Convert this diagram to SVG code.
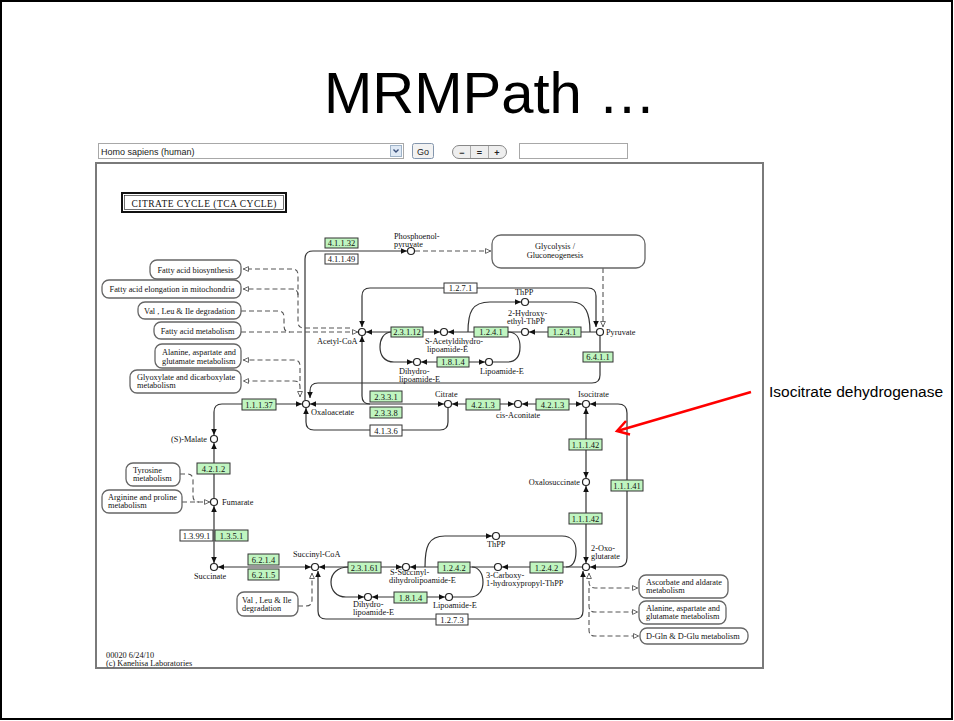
<svg xmlns="http://www.w3.org/2000/svg" width="954" height="721" viewBox="0 0 954 721">
<defs>
<style>
.ln{fill:none;stroke:#333;stroke-width:1.2}
.ds{fill:none;stroke:#555;stroke-width:1.1;stroke-dasharray:5 3}
.cp{fill:#fff;stroke:#222;stroke-width:1.2}
.ec rect{fill:#c0f5c0;stroke:#333;stroke-width:1}
.ew rect{fill:#fff;stroke:#333;stroke-width:1}
.ec text,.ew text{text-anchor:middle;font-size:8.5px}
.mp rect{fill:#fff;stroke:#666;stroke-width:1.3}
.mc text{text-anchor:middle}
text{font-family:"Liberation Serif","DejaVu Serif",serif;font-size:8.3px;fill:#111}
.ui{font-family:"Liberation Sans",Arial,sans-serif}
.title{font-size:58px;fill:#000;text-anchor:middle}
.note{font-size:15.5px;fill:#000}
.tb{font-size:9px;fill:#222}
.b{marker-start:url(#f);marker-end:url(#f)}
.e{marker-end:url(#f)}
.s{marker-start:url(#f)}
.oe{marker-end:url(#o)}
.os{marker-start:url(#o)}
</style>
<marker id="f" viewBox="0 0 6 6" refX="6" refY="3" markerWidth="6" markerHeight="6" markerUnits="userSpaceOnUse" orient="auto-start-reverse"><path d="M0,0.2L6,3L0,5.8z" fill="#111"/></marker>
<marker id="o" viewBox="0 0 6 6" refX="6" refY="3" markerWidth="6" markerHeight="6" markerUnits="userSpaceOnUse" orient="auto-start-reverse"><path d="M0.5,0.6L5.6,3L0.5,5.4z" fill="#fff" stroke="#444" stroke-width="0.8"/></marker>
</defs>
<rect x="0" y="0" width="954" height="721" fill="#fff"/>
<rect x="1" y="1" width="951" height="718" fill="none" stroke="#000" stroke-width="2"/>
<text class="ui title" x="490" y="113">MRMPath …</text>

<g id="toolbar">
<rect x="98.5" y="143.5" width="305" height="15" fill="#fff" stroke="#a8a8a8"/>
<text class="ui tb" x="101" y="154.5">Homo sapiens (human)</text>
<rect x="390.5" y="145.5" width="11" height="11" fill="#dfe9f5" stroke="#9fb3c8"/>
<path d="M393.5,149.5L396,152L398.5,149.5" fill="none" stroke="#3a4f7a" stroke-width="1.4"/>
<rect x="412.5" y="143.5" width="21" height="15" rx="2" fill="#f2f2f2" stroke="#8496ad"/>
<text class="ui tb" x="423" y="154.5" text-anchor="middle">Go</text>
<rect x="452.5" y="145.5" width="54" height="13" rx="6.5" fill="#eee" stroke="#888"/>
<line x1="470.5" y1="146" x2="470.5" y2="158" stroke="#aaa"/>
<line x1="488.5" y1="146" x2="488.5" y2="158" stroke="#aaa"/>
<text class="ui tb" x="462" y="156" text-anchor="middle" font-weight="bold">−</text>
<text class="ui tb" x="479.5" y="156" text-anchor="middle" font-weight="bold">=</text>
<text class="ui tb" x="497" y="156" text-anchor="middle" font-weight="bold">+</text>
<rect x="519.5" y="143.5" width="108" height="15" fill="#fff" stroke="#a8a8a8"/>
</g>

<rect id="panel" x="96" y="163" width="667" height="505" fill="#fff" stroke="#7a7a7a" stroke-width="2"/>

<g id="title-box">
<rect x="122" y="193" width="164" height="19" fill="#fff" stroke="#111" stroke-width="2"/>
<rect x="124.5" y="195.5" width="159" height="14" fill="none" stroke="#111" stroke-width="0.6"/>
<text x="204" y="206.5" text-anchor="middle" textLength="145" style="font-size:9.5px">CITRATE  CYCLE  (TCA CYCLE)</text>
</g>

<g id="connectors">
<path class="ln e" d="M305,400V259Q305,251 313,251H407"/>
<path class="ln b" d="M596,327V296Q596,288 588,288H370Q362,288 362,296V327"/>
<path class="ln e" d="M596,332H529"/>
<path class="ln e" d="M468,332C468,312 472,302 490,302H521"/>
<path class="ln" d="M529,302H572C586,302 590,314 590,332"/>
<path class="ln e" d="M521,332H448"/>
<path class="ln b" d="M366,332H440"/>
<path class="ln e" d="M392,332C383,332 380,340 380,347C380,355 384,362 394,362H413"/>
<path class="ln b" d="M421,362H485"/>
<path class="ln" d="M493,362H507C516,362 520,356 520,347C520,338 516,332 508,332"/>
<path class="ln e" d="M600,336V375Q600,383 592,383H318Q310,383 310,391V398"/>
<path class="ln s" d="M362,336V396Q362,404 370,404"/>
<path class="ln b" d="M310,404H444"/>
<path class="ln s" d="M306,408V422Q306,430 314,430H440Q448,430 448,422V408"/>
<path class="ln b" d="M452,404H514"/>
<path class="ln b" d="M522,404H582"/>
<path class="ln b" d="M590,404H618Q627,404 627,413V558Q627,567 618,567H590"/>
<path class="ln b" d="M586,408V478"/>
<path class="ln b" d="M586,486V563"/>
<path class="ln e" d="M582,567H502"/>
<path class="ln e" d="M425,567C425,547 428,536 445,536H492"/>
<path class="ln" d="M500,536H562C573,536 576,544 576,551C576,560 573,567 566,567"/>
<path class="ln e" d="M494,567H410"/>
<path class="ln" d="M453,597H470C479,597 483,590 483,582C483,574 479,567 472,567"/>
<path class="ln e" d="M349,567C337,567 331,574 331,582C331,590 336,597 346,597H364"/>
<path class="ln b" d="M372,597H445"/>
<path class="ln b" d="M319,567H402"/>
<path class="ln b" d="M583,571V611Q583,619 575,619H326Q318,619 318,611V571"/>
<path class="ln b" d="M218,567H311"/>
<path class="ln b" d="M214,506V563"/>
<path class="ln e" d="M214,498V443"/>
<path class="ln b" d="M214,435V412Q214,404 222,404H302"/>
<path class="ds oe" d="M415,251H491"/>
<path class="ds oe" d="M603,268V327"/>
<path class="ds oe" d="M350,328H304Q298,328 298,322V275Q298,269 292,269H243"/>
<path class="ds oe" d="M298,295Q298,289 292,289H243"/>
<path class="ds" d="M241,311H278Q284,311 284,317V326Q284,332 290,332"/>
<path class="ds oe" d="M241,332H358"/>
<path class="ds os oe" d="M300,397V387Q300,381 294,381H243"/>
<path class="ds oe" d="M300,381V366Q300,360 294,360H243"/>
<path class="ds" d="M180,474H187Q193,474 193,480V496Q193,502 199,502"/>
<path class="ds oe" d="M182,502H210"/>
<path class="ds os oe" d="M589,573V582Q589,588 595,588H638"/>
<path class="ds oe" d="M589,588V606Q589,612 595,612H638"/>
<path class="ds oe" d="M589,612V630Q589,636 595,636H639"/>
<path class="ds oe" d="M298,606H306Q312,606 312,600V573"/>
</g>

<g id="ec_4_1_1_32" class="ec"><rect x="325" y="238" width="33" height="10"/><text x="341.5" y="246">4.1.1.32</text></g>
<g id="ec_4_1_1_49" class="ew"><rect x="325" y="254" width="33" height="10"/><text x="341.5" y="262">4.1.1.49</text></g>
<g id="ec_1_2_7_1" class="ew"><rect x="444" y="283" width="33" height="10"/><text x="460.5" y="291">1.2.7.1</text></g>
<g id="ec_2_3_1_12" class="ec"><rect x="391" y="327" width="32" height="10"/><text x="407" y="335">2.3.1.12</text></g>
<g id="ec_1_2_4_1a" class="ec"><rect x="474" y="327" width="34" height="10"/><text x="491" y="335">1.2.4.1</text></g>
<g id="ec_1_2_4_1b" class="ec"><rect x="548" y="327" width="33" height="10"/><text x="564.5" y="335">1.2.4.1</text></g>
<g id="ec_1_8_1_4a" class="ec"><rect x="437" y="357" width="32" height="10"/><text x="453" y="365">1.8.1.4</text></g>
<g id="ec_6_4_1_1" class="ec"><rect x="583" y="352" width="30" height="10"/><text x="598" y="360">6.4.1.1</text></g>
<g id="ec_2_3_3_1" class="ec"><rect x="370" y="391" width="32" height="11"/><text x="386" y="399.5">2.3.3.1</text></g>
<g id="ec_2_3_3_8" class="ec"><rect x="370" y="407" width="32" height="11"/><text x="386" y="415.5">2.3.3.8</text></g>
<g id="ec_4_1_3_6" class="ew"><rect x="370" y="425" width="32" height="11"/><text x="386" y="433.5">4.1.3.6</text></g>
<g id="ec_4_2_1_3a" class="ec"><rect x="466" y="399" width="34" height="11"/><text x="483" y="407.5">4.2.1.3</text></g>
<g id="ec_4_2_1_3b" class="ec"><rect x="536" y="399" width="33" height="11"/><text x="552.5" y="407.5">4.2.1.3</text></g>
<g id="ec_1_1_1_42a" class="ec"><rect x="569" y="439" width="33" height="11"/><text x="585.5" y="447.5">1.1.1.42</text></g>
<g id="ec_1_1_1_42b" class="ec"><rect x="569" y="513" width="33" height="11"/><text x="585.5" y="521.5">1.1.1.42</text></g>
<g id="ec_1_1_1_41" class="ec"><rect x="611" y="480" width="32" height="11"/><text x="627" y="488.5">1.1.1.41</text></g>
<g id="ec_1_1_1_37" class="ec"><rect x="242" y="399" width="34" height="11"/><text x="259" y="407.5">1.1.1.37</text></g>
<g id="ec_4_2_1_2" class="ec"><rect x="197" y="463" width="33" height="11"/><text x="213.5" y="471.5">4.2.1.2</text></g>
<g id="ec_1_3_99_1" class="ew"><rect x="180" y="530" width="33" height="11"/><text x="196.5" y="538.5">1.3.99.1</text></g>
<g id="ec_1_3_5_1" class="ec"><rect x="215" y="530" width="33" height="11"/><text x="231.5" y="538.5">1.3.5.1</text></g>
<g id="ec_6_2_1_4" class="ec"><rect x="248" y="554" width="31" height="11"/><text x="263.5" y="562.5">6.2.1.4</text></g>
<g id="ec_6_2_1_5" class="ec"><rect x="248" y="569" width="31" height="11"/><text x="263.5" y="577.5">6.2.1.5</text></g>
<g id="ec_2_3_1_61" class="ec"><rect x="348" y="562" width="33" height="11"/><text x="364.5" y="570.5">2.3.1.61</text></g>
<g id="ec_1_2_4_2a" class="ec"><rect x="438" y="562" width="32" height="11"/><text x="454" y="570.5">1.2.4.2</text></g>
<g id="ec_1_2_4_2b" class="ec"><rect x="530" y="562" width="33" height="11"/><text x="546.5" y="570.5">1.2.4.2</text></g>
<g id="ec_1_8_1_4b" class="ec"><rect x="394" y="592" width="33" height="11"/><text x="410.5" y="600.5">1.8.1.4</text></g>
<g id="ec_1_2_7_3" class="ew"><rect x="436" y="614" width="32" height="11"/><text x="452" y="622.5">1.2.7.3</text></g>

<g id="map_fa_bios" class="mp mc"><rect x="150" y="260" width="91" height="19" rx="7"/><text x="195.5" y="272.5">Fatty acid biosynthesis</text></g>
<g id="map_fa_elong" class="mp mc"><rect x="102" y="280" width="139" height="18" rx="7"/><text x="172" y="292">Fatty acid elongation in mitochondria</text></g>
<g id="map_vli_top" class="mp mc"><rect x="138" y="302" width="103" height="17" rx="7"/><text x="189.5" y="313.5">Val , Leu &amp; Ile degradation</text></g>
<g id="map_fa_met" class="mp mc"><rect x="154" y="322" width="87" height="17" rx="7"/><text x="197.5" y="333.5">Fatty acid metabolism</text></g>
<g id="map_ala_l" class="mp"><rect x="155" y="344" width="86" height="24" rx="7"/><text x="162" y="355">Alanine, aspartate and</text><text x="162" y="363.5">glutamate metabolism</text></g>
<g id="map_glyox" class="mp"><rect x="130" y="370" width="111" height="23" rx="7"/><text x="137" y="380">Glyoxylate and dicarboxylate</text><text x="137" y="388">metabolism</text></g>
<g id="map_glycolysis" class="mp mc"><rect x="492" y="235" width="153" height="33" rx="9"/><text x="555" y="249">Glycolysis /</text><text x="555" y="257.5">Gluconeogenesis</text></g>
<g id="map_tyr" class="mp"><rect x="126" y="463" width="54" height="23" rx="7"/><text x="133" y="472.5">Tyrosine</text><text x="133" y="480.5">metabolism</text></g>
<g id="map_arg" class="mp"><rect x="102" y="490" width="80" height="23" rx="7"/><text x="108" y="499.5">Arginine and proline</text><text x="108" y="507.5">metabolism</text></g>
<g id="map_vli_bot" class="mp"><rect x="237" y="592" width="61" height="24" rx="7"/><text x="242" y="603">Val , Leu &amp; Ile</text><text x="242" y="611">degradation</text></g>
<g id="map_asc" class="mp"><rect x="639" y="575" width="89" height="23" rx="7"/><text x="646" y="585">Ascorbate and aldarate</text><text x="646" y="593">metabolism</text></g>
<g id="map_ala_r" class="mp"><rect x="639" y="601" width="87" height="23" rx="7"/><text x="646" y="611">Alanine, aspartate and</text><text x="646" y="619">glutamate metabolism</text></g>
<g id="map_dgln" class="mp"><rect x="640" y="628" width="108" height="16" rx="7"/><text x="646" y="639">D-Gln &amp; D-Glu metabolism</text></g>

<g id="c_pep"><circle class="cp" cx="411" cy="251" r="3.5"/><text x="394" y="239">Phosphoenol-</text><text x="394" y="247">pyruvate</text></g>
<g id="c_accoa"><circle class="cp" cx="362" cy="332" r="3.5"/><text x="317" y="344">Acetyl-CoA</text></g>
<g id="c_sacdhl"><circle class="cp" cx="444" cy="332" r="3.5"/><text x="425" y="344">S-Acetyldihydro-</text><text x="427" y="352">lipoamide-E</text></g>
<g id="c_dhl_top"><circle class="cp" cx="417" cy="362" r="3.5"/><text x="399" y="374">Dihydro-</text><text x="399" y="382">lipoamide-E</text></g>
<g id="c_lip_top"><circle class="cp" cx="489" cy="362" r="3.5"/><text x="480" y="374">Lipoamide-E</text></g>
<g id="c_thpp_top"><circle class="cp" cx="525" cy="302" r="3.5"/><text x="515" y="295">ThPP</text></g>
<g id="c_hetpp"><circle class="cp" cx="525" cy="332" r="3.5"/><text x="508" y="316">2-Hydroxy-</text><text x="507" y="324">ethyl-ThPP</text></g>
<g id="c_pyr"><circle class="cp" cx="600" cy="332" r="3.5"/><text x="606" y="335">Pyruvate</text></g>
<g id="c_oaa"><circle class="cp" cx="306" cy="404" r="3.5"/><text x="311" y="414.5">Oxaloacetate</text></g>
<g id="c_cit"><circle class="cp" cx="448" cy="404" r="3.5"/><text x="435" y="397">Citrate</text></g>
<g id="c_cisaco"><circle class="cp" cx="518" cy="404" r="3.5"/><text x="496" y="418">cis-Aconitate</text></g>
<g id="c_isocit"><circle class="cp" cx="586" cy="404" r="3.5"/><text x="578" y="397">Isocitrate</text></g>
<g id="c_oxsucc"><circle class="cp" cx="586" cy="482" r="3.5"/><text x="580" y="485" text-anchor="end">Oxalosuccinate</text></g>
<g id="c_og"><circle class="cp" cx="586" cy="567" r="3.5"/><text x="591" y="551">2-Oxo-</text><text x="591" y="559">glutarate</text></g>
<g id="c_thpp_bot"><circle class="cp" cx="496" cy="536" r="3.5"/><text x="487" y="547">ThPP</text></g>
<g id="c_chptpp"><circle class="cp" cx="498" cy="567" r="3.5"/><text x="486" y="578">3-Carboxy-</text><text x="486" y="586">1-hydroxypropyl-ThPP</text></g>
<g id="c_ssucc"><circle class="cp" cx="406" cy="567" r="3.5"/><text x="390" y="575">S-Succinyl-</text><text x="389" y="583">dihydrolipoamide-E</text></g>
<g id="c_dhl_bot"><circle class="cp" cx="368" cy="597" r="3.5"/><text x="353" y="607">Dihydro-</text><text x="353" y="615">lipoamide-E</text></g>
<g id="c_lip_bot"><circle class="cp" cx="449" cy="597" r="3.5"/><text x="433" y="607.5">Lipoamide-E</text></g>
<g id="c_succoa"><circle class="cp" cx="315" cy="567" r="3.5"/><text x="293" y="557">Succinyl-CoA</text></g>
<g id="c_succ"><circle class="cp" cx="214" cy="567" r="3.5"/><text x="194" y="579">Succinate</text></g>
<g id="c_fum"><circle class="cp" cx="214" cy="502" r="3.5"/><text x="222" y="505">Fumarate</text></g>
<g id="c_mal"><circle class="cp" cx="214" cy="439" r="3.5"/><text x="207" y="442" text-anchor="end">(S)-Malate</text></g>

<g id="footer"><text x="106" y="658">00020 6/24/10</text><text x="106" y="666">(c) Kanehisa Laboratories</text></g>

<g id="annotation">
<line x1="751" y1="392" x2="619" y2="430.5" stroke="#f00" stroke-width="2.5"/>
<polyline points="630,434.5 617,431 626,421" fill="none" stroke="#f00" stroke-width="2.5" stroke-linejoin="miter"/>
<text class="ui note" x="769" y="397">Isocitrate dehydrogenase</text>
</g>
</svg>
